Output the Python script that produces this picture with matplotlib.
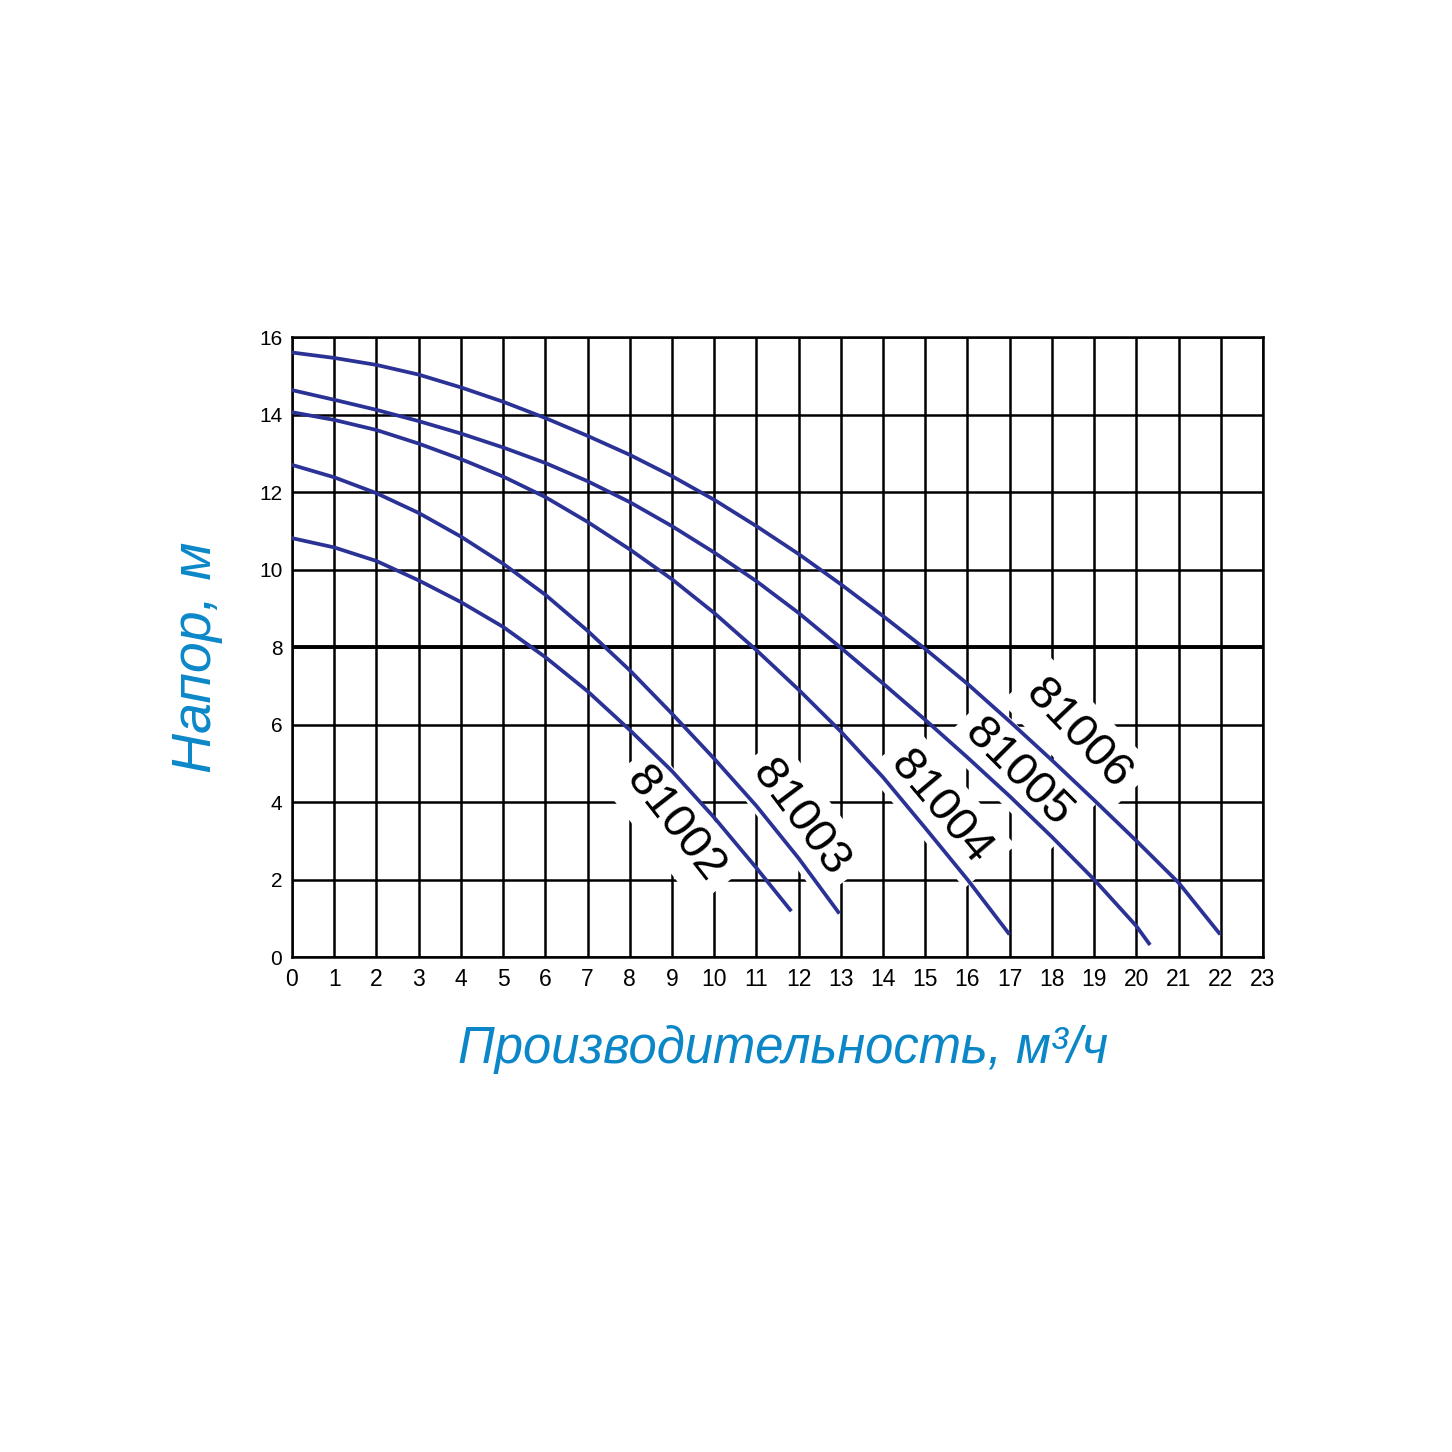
import matplotlib
matplotlib.use("Agg")
import matplotlib.pyplot as plt

# значения (Q, м3/ч -> H, м)
q_81002 = [0, 1, 2, 3, 4, 5, 6, 7, 8, 9, 10, 11, 11.8]
h_81002 = [10.81, 10.57, 10.22, 9.72, 9.16, 8.52, 7.74, 6.86, 5.86, 4.8, 3.6, 2.3, 1.22]

q_81003 = [0, 1, 2, 3, 4, 5, 6, 7, 8, 9, 10, 11, 12, 12.94]
h_81003 = [12.7, 12.38, 11.97, 11.46, 10.85, 10.15, 9.35, 8.42, 7.4, 6.28, 5.12, 3.9, 2.55, 1.16]

q_81004 = [0, 1, 2, 3, 4, 5, 6, 7, 8, 9, 10, 11, 12, 13, 14, 15, 16, 16.97]
h_81004 = [14.06, 13.86, 13.6, 13.25, 12.85, 12.4, 11.87, 11.23, 10.52, 9.75, 8.88, 7.92,
           6.9, 5.82, 4.64, 3.33, 2.0, 0.62]

q_81005 = [0, 1, 2, 3, 4, 5, 6, 7, 8, 9, 10, 11, 12, 13, 14, 15, 16, 17, 18, 19, 20, 20.3]
h_81005 = [14.63, 14.38, 14.12, 13.83, 13.51, 13.15, 12.75, 12.28, 11.74, 11.12, 10.44, 9.7,
           8.88, 7.98, 7.06, 6.12, 5.15, 4.15, 3.1, 2.0, 0.8, 0.35]

q_81006 = [0, 1, 2, 3, 4, 5, 6, 7, 8, 9, 10, 11, 12, 13, 14, 15, 16, 17, 18, 19, 20, 21, 21.96]
h_81006 = [15.6, 15.46, 15.28, 15.03, 14.7, 14.33, 13.91, 13.45, 12.96, 12.41, 11.8, 11.12,
           10.4, 9.62, 8.8, 7.95, 7.05, 6.08, 5.08, 4.05, 3.0, 1.92, 0.62]

models = ["81002", "81003", "81004", "81005", "81006"]
curves = [(q_81002, h_81002), (q_81003, h_81003), (q_81004, h_81004),
          (q_81005, h_81005), (q_81006, h_81006)]
# подписи кривых: (x, y, угол)
label_pos = [(9.08, 3.41, -52), (12.04, 3.59, -53), (15.36, 3.85, -50),
             (17.2, 4.75, -45), (18.63, 5.73, -46.5)]

x_ticks = list(range(0, 24))
y_ticks = list(range(0, 17, 2))

blue = "#0b87c8"
line_color = "#2b3296"

plt.rcParams["font.family"] = ["Liberation Sans", "DejaVu Sans"]

fig = plt.figure(figsize=(14.52, 14.52), dpi=100)
ax = fig.add_axes([0.2011, 0.3409, 0.6687, 0.427])

ax.set_xlim(0, 23)
ax.set_ylim(0, 16)
ax.set_xticks(x_ticks)
ax.set_yticks(y_ticks)
ax.tick_params(length=0)
ax.tick_params(axis="x", labelsize=16.5, pad=8)
ax.tick_params(axis="y", labelsize=15, pad=7)
ax.set_axisbelow(True)
ax.grid(color="black", lw=1.8)
ax.axhline(8, color="black", lw=2.8, zorder=1)
for s in ax.spines.values():
    s.set_linewidth(1.8)

for (q, h), name, (lx, ly, rot) in zip(curves, models, label_pos):
    ax.plot(q, h, color=line_color, lw=2.7, zorder=4, solid_joinstyle="round")
    ax.text(lx, ly, name, fontsize=34, rotation=rot, rotation_mode="anchor",
            ha="center", va="center", zorder=3,
            bbox=dict(facecolor="white", edgecolor="none", pad=8))

fig.text(0.1357, 0.5475, "Напор, м", rotation=90, ha="center", va="center",
         fontsize=40, style="italic", color=blue)
fig.text(0.539, 0.2769, "Производительность, м³/ч", ha="center", va="center",
         fontsize=36.5, style="italic", color=blue)

fig.savefig("out.png", dpi=100)
